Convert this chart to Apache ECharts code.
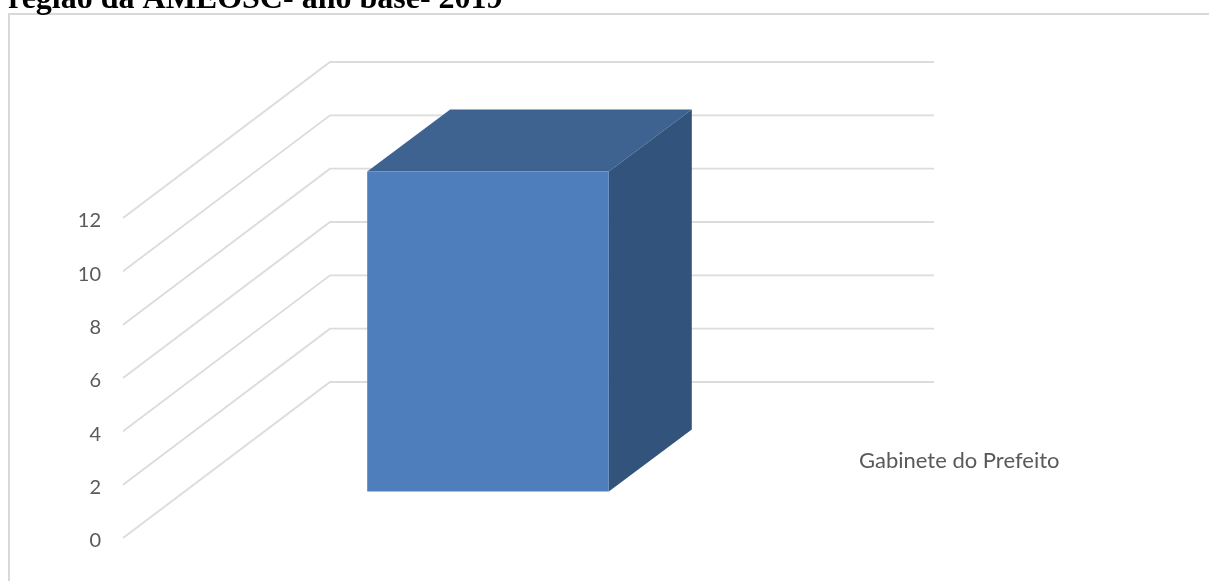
<!DOCTYPE html>
<html>
<head>
<meta charset="utf-8">
<style>html,body{margin:0;padding:0;background:#fff}#chart{width:1209px;height:581px}</style>
<script src="https://cdn.jsdelivr.net/npm/echarts@6/dist/echarts.min.js"></script>
</head>
<body>
<div id="chart"></div>
<script>
const titleText = 'região da AMEOSC- ano base- 2019';
const categories = ['Gabinete do Prefeito'];
const barValues = [12];
const yTicks = [0, 2, 4, 6, 8, 10, 12];

// Oblique projection of the floor: how far the back wall sits from the front edge.
const WALL_DX = 207, WALL_DY = -156;
// The bar stands part-way into the floor, and its own depth runs further back.
const BAR_DX = 63, BAR_DY = -46.5;
const DEPTH_DX = 83, DEPTH_DY = -62;
const WALL_RIGHT = 934;

const chart = echarts.init(document.getElementById('chart'), null, {renderer: 'canvas'});

function renderGridLine(params, api) {
  const p = api.coord([0, api.value(0)]);
  const x0 = params.coordSys.x;
  return {
    type: 'polyline',
    silent: true,
    shape: {points: [[x0, p[1]], [x0 + WALL_DX, p[1] + WALL_DY], [WALL_RIGHT, p[1] + WALL_DY]]},
    style: {fill: null, stroke: '#dcdcdc', lineWidth: 1.8}
  };
}

function renderBar(params, api) {
  const c = api.value(0);
  const band = api.size([1, 0])[0];
  const w = band * 0.4;
  const top = api.coord([c, api.value(1)]);
  const base = api.coord([c, 0]);
  const l = top[0] - w / 2 + BAR_DX, r = l + w;
  const t = top[1] + BAR_DY, b = base[1] + BAR_DY;
  return {
    type: 'group',
    children: [
      {type: 'polygon', shape: {points: [[l, t], [r, t], [r + DEPTH_DX, t + DEPTH_DY], [l + DEPTH_DX, t + DEPTH_DY]]},
        style: {fill: '#3e6390'}},
      {type: 'polygon', shape: {points: [[r, t], [r + DEPTH_DX, t + DEPTH_DY], [r + DEPTH_DX, b + DEPTH_DY], [r, b]]},
        style: {fill: '#32547c'}},
      {type: 'rect', shape: {x: l, y: t, width: w, height: b - t},
        style: {fill: '#4e7fbc'}}
    ]
  };
}

function renderCategoryLabel(params, api) {
  return {
    type: 'text',
    x: 859,
    y: 461,
    style: {
      text: categories[api.value(0)],
      font: '22px Lato',
      fill: '#595959',
      align: 'left',
      verticalAlign: 'middle'
    }
  };
}

chart.setOption({
  animation: false,
  backgroundColor: '#fff',
  title: {
    text: titleText,
    left: 8,
    top: -16,
    padding: 0,
    textStyle: {fontFamily: 'Liberation Serif', fontWeight: 'bold', fontSize: 32, color: '#000'}
  },
  grid: {left: 123, width: 604, top: 218, height: 320, containLabel: false},
  xAxis: {
    type: 'category',
    data: categories,
    axisLine: {show: false},
    axisTick: {show: false},
    axisLabel: {show: false},
    splitLine: {show: false}
  },
  yAxis: {
    type: 'value',
    min: 0,
    max: 12,
    interval: 2,
    axisLine: {show: false},
    axisTick: {show: false},
    splitLine: {show: false},
    axisLabel: {
      margin: 22,
      formatter: v => '{tick|' + v + '}',
      rich: {tick: {color: '#595959', fontFamily: 'Lato', fontSize: 20, padding: [6, 0, 0, 0]}}
    }
  },
  graphic: [{
    type: 'polyline',
    silent: true,
    z: -1,
    shape: {points: [[9, 581], [9, 14], [1209, 14]]},
    style: {fill: null, stroke: '#d9d9d9', lineWidth: 2}
  }],
  series: [
    {
      type: 'custom',
      name: 'grade',
      coordinateSystem: 'cartesian2d',
      clip: false,
      z: 1,
      renderItem: renderGridLine,
      encode: {y: 0},
      data: yTicks.map(v => [v]),
      silent: true
    },
    {
      type: 'custom',
      name: categories[0],
      coordinateSystem: 'cartesian2d',
      clip: false,
      z: 2,
      renderItem: renderBar,
      encode: {x: 0, y: 1},
      data: barValues.map((v, i) => [i, v])
    },
    {
      type: 'custom',
      name: 'rótulo',
      coordinateSystem: 'cartesian2d',
      clip: false,
      z: 3,
      renderItem: renderCategoryLabel,
      encode: {x: 0},
      data: categories.map((c, i) => [i]),
      silent: true
    }
  ]
});
</script>
</body>
</html>
